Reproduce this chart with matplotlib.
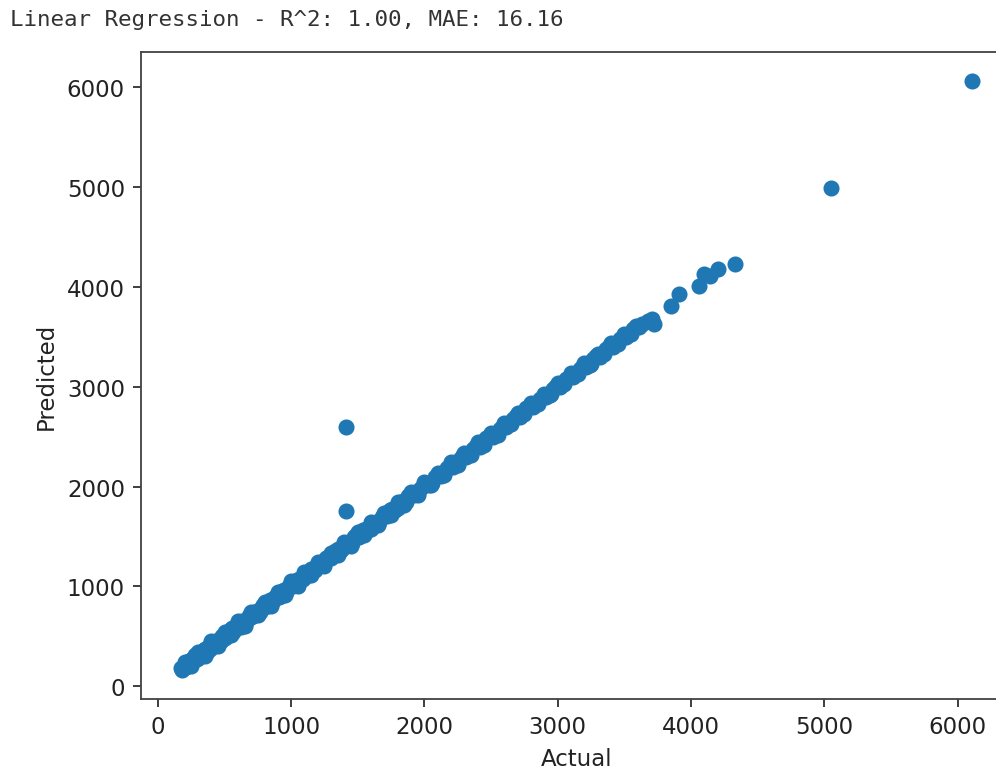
import matplotlib
matplotlib.use("Agg")
import matplotlib.pyplot as plt

# actual vs predicted values
actual = [
    170, 185, 200, 215, 230, 250, 265, 280, 300, 320, 335, 355, 375, 390, 410, 430, 450, 470, 490, 510,
    530, 555, 575, 600, 620, 645, 670, 690, 715, 740, 765, 790, 815, 840, 865, 890, 920, 945, 970, 1000,
    1030, 1060, 1090, 1120, 1150, 1180, 1210, 1245, 1280, 1315, 1350, 1385, 1420, 1455, 1490, 1525, 1560, 1600, 1640, 1680,
    1720, 1760, 1800, 1840, 1880, 1920, 1965, 2010, 2055, 2100, 2145, 2190, 2240, 2290, 2340, 2390, 2440, 2490, 2540, 2590,
    2640, 2690, 2740, 2790, 2840, 2890, 2940, 2990, 3040, 3090, 3140, 3190, 3240, 3290, 3340, 3390, 3440, 3490, 3540, 3590,
    178, 193, 208, 222, 240, 258, 272, 290, 310, 328, 345, 365, 382, 400, 420, 440, 460, 480, 500, 520,
    542, 565, 588, 610, 632, 658, 680, 702, 728, 752, 778, 802, 828, 852, 878, 905, 932, 958, 985, 1015,
    1045, 1075, 1105, 1135, 1165, 1195, 1228, 1262, 1298, 1332, 1368, 1402, 1438, 1472, 1508, 1542, 1580, 1620, 1660, 1700,
    1740, 1780, 1820, 1860, 1900, 1942, 1988, 2032, 2078, 2122, 2168, 2215, 2265, 2315, 2365, 2415, 2465, 2515, 2565, 2615,
    2665, 2715, 2765, 2815, 2865, 2915, 2965, 3015, 3065, 3115, 3165, 3215, 3265, 3315, 3365, 3415, 3465, 3515, 3565, 3612,
    200, 300, 400, 500, 600, 700, 800, 900, 1000, 1100, 1200, 1300, 1400, 1500, 1600, 1700, 1800,
    1900, 2000, 2100, 2200, 2300, 2400, 2500, 2600, 2700, 2800, 2900, 3000, 3100, 3200, 3300, 3400, 3500,
    250, 350, 450, 550, 650, 750, 850, 950, 1050, 1150, 1250, 1350, 1450, 1550, 1650, 1750, 1850,
    1950, 2050, 2150, 2250, 2350, 2450, 2550, 2650, 2750, 2850, 2950, 3050, 3150, 3250, 3350, 3450, 3550,
    3635, 3680, 3710, 3723, 3849, 3912, 4062, 4100, 4140, 4200, 4327,
    5053, 6109, 1415, 1415,
]
predicted = [
    180, 180, 218, 203, 255, 230, 273, 310, 285, 332, 310, 375, 380, 372, 438, 420, 465, 448, 496, 534,
    516, 577, 567, 616, 596, 655, 666, 716, 699, 752, 745, 808, 809, 864, 853, 898, 898, 959, 968, 1020,
    1020, 1078, 1072, 1126, 1172, 1166, 1222, 1225, 1296, 1309, 1374, 1373, 1430, 1437, 1510, 1517, 1574, 1578, 1648, 1698,
    1708, 1776, 1780, 1850, 1902, 1912, 1979, 2040, 2039, 2120, 2135, 2202, 2222, 2314, 2334, 2406, 2426, 2512, 2530, 2608,
    2626, 2710, 2732, 2814, 2822, 2900, 2918, 3006, 3034, 3112, 3128, 3208, 3220, 3304, 3336, 3414, 3424, 3502, 3530, 3610,
    165, 205, 190, 240, 215, 272, 262, 275, 328, 310, 360, 345, 398, 420, 405, 455, 440, 500, 478, 505,
    560, 545, 605, 590, 652, 645, 700, 690, 745, 738, 795, 790, 845, 838, 895, 890, 950, 945, 1005, 1000,
    1065, 1060, 1120, 1118, 1150, 1212, 1215, 1280, 1285, 1350, 1355, 1420, 1425, 1492, 1495, 1560, 1565, 1638, 1645, 1715,
    1760, 1765, 1838, 1848, 1915, 1930, 2005, 2020, 2095, 2108, 2185, 2200, 2280, 2300, 2380, 2400, 2482, 2500, 2580, 2600,
    2680, 2700, 2782, 2800, 2880, 2902, 2982, 3000, 3080, 3102, 3180, 3200, 3282, 3300, 3380, 3400, 3482, 3500, 3582, 3600,
    245, 342, 448, 540, 648, 742, 845, 940, 1048, 1140, 1245, 1338, 1446, 1540, 1645, 1738, 1846,
    1940, 2050, 2138, 2245, 2336, 2442, 2540, 2640, 2735, 2842, 2930, 3038, 3135, 3240, 3330, 3435, 3532,
    205, 305, 402, 508, 605, 708, 805, 910, 1005, 1110, 1208, 1312, 1405, 1512, 1610, 1712, 1810,
    1915, 2012, 2115, 2215, 2318, 2420, 2520, 2622, 2722, 2825, 2925, 3025, 3128, 3225, 3330, 3428, 3530,
    3630, 3660, 3680, 3630, 3813, 3930, 4013, 4130, 4110, 4180, 4230,
    4990, 6060, 2595, 1750,
]

title = "Linear Regression - R^2: 1.00, MAE: 16.16"

def main():
    fig = plt.figure(figsize=(997 / 165, 774 / 165), dpi=165)
    ax = fig.add_axes([0.1414, 0.0956, 0.8733, 0.8359])

    ax.scatter(actual, predicted)
    ax.set_xlabel("Actual", color="#222222")
    ax.set_ylabel("Predicted", color="#222222")
    ax.tick_params(colors="#333333", labelcolor="#222222")
    for s in ax.spines.values():
        s.set_color("#444444")

    # printed output line above the figure
    fig.text(0.01, 1 - 20 / 774, title, family="DejaVu Sans Mono",
             fontsize=9.8, color="#333333", va="center", ha="left")

    fig.savefig("out.png", dpi=165)

if __name__ == "__main__":
    main()
